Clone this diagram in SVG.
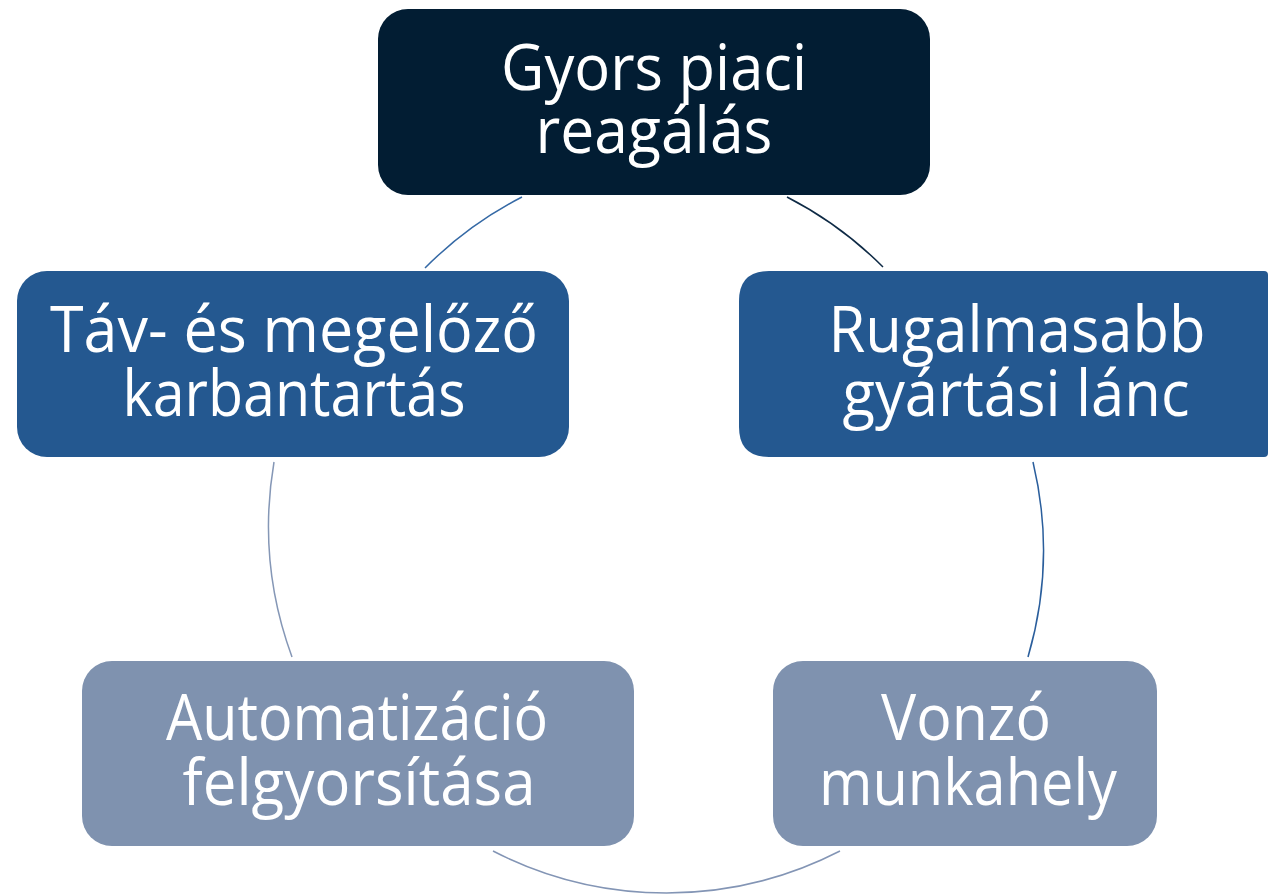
<svg xmlns="http://www.w3.org/2000/svg" width="1269" height="894" viewBox="0 0 1269 894">
<style>
.t{font-family:"Open Sans","Noto Sans","Liberation Sans",sans-serif;font-size:64px;fill:#ffffff;text-anchor:middle}
.c{fill:none;stroke-width:1.5}
</style>
<rect width="1269" height="894" fill="#ffffff"/>
<g id="connectors">
<path class="c" stroke="#3569A5" d="M425,268 A380,380 0 0 1 522,197"/>
<path class="c" stroke="#0E2A45" d="M787,197 A380,380 0 0 1 883,267"/>
<path class="c" stroke="#2A5E9C" d="M1033,462 A380,380 0 0 1 1028,657"/>
<path class="c" stroke="#8395B5" d="M840,851 A380,380 0 0 1 493,851"/>
<path class="c" stroke="#8597B6" d="M292,657 A380,380 0 0 1 274,462"/>
</g>
<g id="node-top">
<rect x="378" y="9" width="552" height="186" rx="30" fill="#021D33"/>
<text class="t" x="654" y="90" textLength="306" lengthAdjust="spacingAndGlyphs">Gyors piaci</text>
<text class="t" x="654" y="153" textLength="237" lengthAdjust="spacingAndGlyphs">reagálás</text>
</g>
<g id="node-right">
<path d="M769,271 H1264 Q1268,271 1268,275 V453 Q1268,457 1264,457 H769 Q739,457 739,427 V301 Q739,271 769,271 Z" fill="#245890"/>
<text class="t" x="1017" y="352" textLength="377" lengthAdjust="spacingAndGlyphs">Rugalmasabb</text>
<text class="t" x="1016" y="416" textLength="347" lengthAdjust="spacingAndGlyphs">gyártási lánc</text>
</g>
<g id="node-bottom-right">
<rect x="773" y="661" width="384" height="185" rx="30" fill="#7F92AF"/>
<text class="t" x="966" y="740" textLength="170" lengthAdjust="spacingAndGlyphs">Vonzó</text>
<text class="t" x="968" y="805" textLength="298" lengthAdjust="spacingAndGlyphs">munkahely</text>
</g>
<g id="node-bottom-left">
<rect x="82" y="661" width="552" height="185" rx="30" fill="#7F92AF"/>
<text class="t" x="357" y="740" textLength="382" lengthAdjust="spacingAndGlyphs">Automatizáció</text>
<text class="t" x="359" y="805" textLength="353" lengthAdjust="spacingAndGlyphs">felgyorsítása</text>
</g>
<g id="node-left">
<rect x="17" y="271" width="552" height="186" rx="30" fill="#245890"/>
<text class="t" x="294" y="352" textLength="488" lengthAdjust="spacingAndGlyphs">Táv- és megelőző</text>
<text class="t" x="294" y="416" textLength="343" lengthAdjust="spacingAndGlyphs">karbantartás</text>
</g>
</svg>
